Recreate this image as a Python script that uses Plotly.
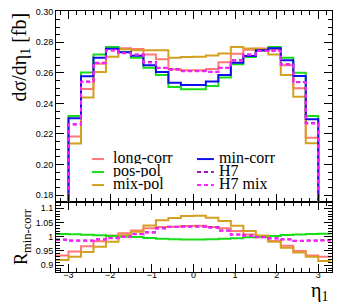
import numpy as np
import plotly.graph_objects as go

# bin edges in eta_1 (main panel)
eta_edges = [-3.0, -2.7, -2.4, -2.1, -1.8, -1.5, -1.2, -0.9, -0.6, -0.3, 0.0,
             0.3, 0.6, 0.9, 1.2, 1.5, 1.8, 2.1, 2.4, 2.7, 3.0]
# ratio panel has one extra bin on each side
ratio_edges = [-3.3] + eta_edges + [3.3]

# dsigma/deta_1 [fb]
long_corr = [0.2183, 0.2495, 0.2660, 0.2765, 0.2761, 0.2757, 0.2721, 0.2689, 0.2623, 0.2617,
             0.2617, 0.2625, 0.2670, 0.2725, 0.2752, 0.2759, 0.2755, 0.2650, 0.2499, 0.2176]
pos_pol = [0.2318, 0.2602, 0.2721, 0.2770, 0.2737, 0.2699, 0.2634, 0.2586, 0.2508, 0.2493,
           0.2493, 0.2514, 0.2569, 0.2656, 0.2704, 0.2745, 0.2769, 0.2699, 0.2601, 0.2318]
mix_pol = [0.2137, 0.2438, 0.2606, 0.2706, 0.2754, 0.2748, 0.2748, 0.2748, 0.2699, 0.2704,
           0.2706, 0.2714, 0.2726, 0.2769, 0.2759, 0.2755, 0.2721, 0.2586, 0.2444, 0.2140]
min_corr = [0.2303, 0.2578, 0.2699, 0.2758, 0.2735, 0.2712, 0.2650, 0.2606, 0.2536, 0.2521,
            0.2521, 0.2543, 0.2586, 0.2667, 0.2710, 0.2748, 0.2761, 0.2682, 0.2580, 0.2297]
h7 = [0.2264, 0.2543, 0.2667, 0.2748, 0.2730, 0.2721, 0.2671, 0.2634, 0.2623, 0.2612,
      0.2612, 0.2608, 0.2634, 0.2682, 0.2721, 0.2745, 0.2745, 0.2656, 0.2540, 0.2271]
h7_mix = [0.2262, 0.2540, 0.2665, 0.2746, 0.2728, 0.2719, 0.2668, 0.2632, 0.2620, 0.2610,
          0.2610, 0.2606, 0.2632, 0.2680, 0.2719, 0.2743, 0.2743, 0.2654, 0.2538, 0.2269]

# ratio to min-corr (22 bins, -3.3 .. 3.3)
r_long_corr = [0.934, 0.948, 0.967, 0.984, 1.004, 1.012, 1.022, 1.030, 1.034, 1.035, 1.038,
               1.039, 1.034, 1.030, 1.020, 1.008, 0.998, 0.985, 0.968, 0.950, 0.934, 0.930]
r_pos_pol = [1.010, 1.009, 1.007, 1.005, 1.003, 1.001, 0.999, 0.996, 0.993, 0.991, 0.990,
             0.990, 0.991, 0.993, 0.995, 0.998, 1.000, 1.003, 1.006, 1.008, 1.010, 1.011]
r_mix_pol = [0.918, 0.930, 0.946, 0.965, 0.982, 1.005, 1.018, 1.040, 1.058, 1.066, 1.073,
             1.074, 1.067, 1.055, 1.039, 1.020, 1.004, 0.982, 0.961, 0.945, 0.930, 0.915]
r_h7 = [0.990, 0.987, 0.987, 0.991, 0.996, 1.000, 1.010, 1.016, 1.030, 1.035, 1.036,
        1.036, 1.033, 1.022, 1.008, 1.004, 0.999, 0.995, 0.991, 0.986, 0.987, 0.988]
r_h7_mix = [0.989, 0.986, 0.986, 0.990, 0.995, 0.999, 1.009, 1.015, 1.029, 1.034, 1.035,
            1.035, 1.032, 1.021, 1.007, 1.003, 0.998, 0.994, 0.990, 0.985, 0.986, 0.987]

x_tick_vals = [-3, -2, -1, 0, 1, 2, 3]
x_tick_text = ["\u22123", "\u22122", "\u22121", "0", "1", "2", "3"]
y_tick_vals = [0.18, 0.20, 0.22, 0.24, 0.26, 0.28, 0.30]
r_tick_vals = [0.9, 0.95, 1.0, 1.05, 1.1]
r_tick_text = ["0.9", "0.95", "1", "1.05", "1.1"]

series_names = ["long-corr", "pos-pol", "mix-pol", "min-corr", "H7", "H7 mix"]
series_vals = [long_corr, pos_pol, mix_pol, min_corr, h7, h7_mix]
series_ratio = [r_long_corr, r_pos_pol, r_mix_pol, None, r_h7, r_h7_mix]
series_colors = ["#ff7878", "#18dd18", "#d4a020", "#1010ee", "#a010c0", "#ff20ff"]
series_dash = ["solid", "solid", "solid", "solid", "4px,3px", "4px,3px"]


def hist_outline(edges, vals):
    xs = [edges[0]] + list(edges[:-1]) + [edges[-1], edges[-1]]
    ys = [0.0] + list(vals) + [vals[-1], 0.0]
    return xs, ys


def ratio_outline(edges, vals):
    xs = list(edges[:-1]) + [edges[-1]]
    ys = list(vals) + [vals[-1]]
    return xs, ys


fig = go.Figure()
for name, vals, color, dash in zip(series_names, series_vals, series_colors, series_dash):
    xs, ys = hist_outline(eta_edges, vals)
    fig.add_trace(go.Scatter(x=xs, y=ys, mode="lines", line_shape="hv", name=name,
                             line=dict(color=color, width=2, dash=dash),
                             xaxis="x2", yaxis="y2", showlegend=False))
for name, rvals, color, dash in zip(series_names, series_ratio, series_colors, series_dash):
    if rvals is None:
        continue
    xs, ys = ratio_outline(ratio_edges, rvals)
    fig.add_trace(go.Scatter(x=xs, y=ys, mode="lines", line_shape="hv", name=name,
                             line=dict(color=color, width=2, dash=dash),
                             xaxis="x", yaxis="y", showlegend=False))

# ---- legend (two columns, ROOT TLegend style) ----
serif = "Liberation Serif, Times New Roman, serif"
leg_cols = [dict(x0=0.130, x1=0.174, tx=0.201), dict(x0=0.511, x1=0.572, tx=0.585)]
leg_rows = [0.4387, 0.3889, 0.3391]
shapes = []
annotations = []
for i, (name, color, dash) in enumerate(zip(series_names, series_colors, series_dash)):
    col = leg_cols[i // 3]
    row_y = leg_rows[i % 3]
    shapes.append(dict(type="line", xref="paper", yref="paper",
                       x0=col["x0"], x1=col["x1"], y0=row_y - 0.006, y1=row_y - 0.006,
                       line=dict(color=color, width=2, dash=dash)))
    annotations.append(dict(text=name, xref="paper", yref="paper", x=col["tx"], y=row_y,
                            xanchor="left", yanchor="middle", showarrow=False, height=13,
                            font=dict(family=serif, size=16, color="black")))

annotations += [
    dict(text="d\u03c3/d\u03b7<sub>1</sub> [fb]", xref="paper", yref="paper",
         x=-0.127, y=0.825, textangle=-90, showarrow=False, xanchor="center", yanchor="middle",
         font=dict(family=serif, size=20, color="black")),
    dict(text="R<sub>min-corr</sub>", xref="paper", yref="paper",
         x=-0.123, y=0.134, textangle=-90, showarrow=False, xanchor="center", yanchor="middle",
         font=dict(family=serif, size=18, color="black")),
    dict(text="\u03b7<sub>1</sub>", xref="paper", yref="paper",
         x=0.993, y=-0.074, showarrow=False, xanchor="right", yanchor="middle",
         font=dict(family=serif, size=20, color="black")),
]

tickfont = dict(family="Liberation Sans, Arial", size=9, color="black")
axis_common = dict(showgrid=False, zeroline=False, showline=True, linecolor="black",
                   linewidth=1, mirror="allticks", ticks="inside", tickcolor="black",
                   tickfont=tickfont, automargin=False, ticklabeloverflow="allow")
dom_split = 0.269
# the page body adds an 8px offset, so the figure is 8px smaller than the window
fig.update_layout(
    width=341, height=299,
    margin=dict(l=48, r=17, t=3, b=35),
    paper_bgcolor="white", plot_bgcolor="white",
    showlegend=False,
    xaxis=dict(domain=[0, 1], range=[-3.3, 3.33], anchor="y",
               tickvals=x_tick_vals, ticktext=x_tick_text, ticklen=8, ticklabelstandoff=-6,
               minor=dict(dtick=0.2, tick0=0, ticklen=4, ticks="inside", tickcolor="black"),
               **axis_common),
    yaxis=dict(domain=[0, dom_split], range=[0.876, 1.123], anchor="x",
               tickvals=r_tick_vals, ticktext=r_tick_text, ticklen=8,
               minor=dict(dtick=0.01, tick0=0, ticklen=4, ticks="inside", tickcolor="black"),
               **axis_common),
    xaxis2=dict(domain=[0, 1], range=[-3.3, 3.33], anchor="y2", matches="x",
                showticklabels=False, tickvals=x_tick_vals, ticklen=8,
                minor=dict(dtick=0.2, tick0=0, ticklen=4, ticks="inside", tickcolor="black"),
                **axis_common),
    yaxis2=dict(domain=[dom_split, 1], range=[0.1756, 0.3005], anchor="x2",
                tickvals=y_tick_vals, tickformat=".2f", ticklen=8,
                minor=dict(dtick=0.005, tick0=0, ticklen=4, ticks="inside", tickcolor="black"),
                **axis_common),
    shapes=shapes,
    annotations=annotations,
)
fig.write_html("out.html")
